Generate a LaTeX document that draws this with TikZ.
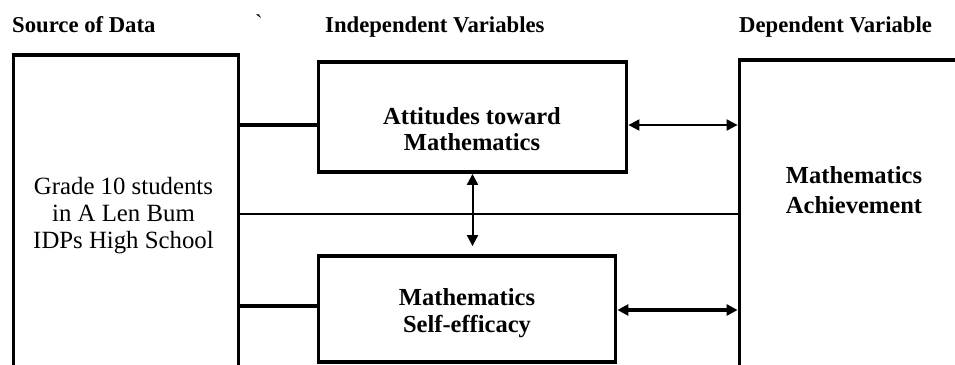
\documentclass[tikz,border=0pt]{standalone}
\usepackage{fontspec}
\setmainfont{Liberation Serif}
\usetikzlibrary{arrows.meta,calc}
\begin{document}
\begin{tikzpicture}[x=1pt,y=-1pt,
  box/.style={draw, rectangle, line width=3.8pt, inner sep=0pt},
  hdr/.style={inner sep=0pt, anchor=base west, font=\fontsize{22.7}{27}\selectfont\bfseries},
  btxt/.style={inner sep=0pt, align=center, font=\fontsize{24.5}{26}\selectfont\bfseries},
  rtxt/.style={inner sep=0pt, align=center, font=\fontsize{24.8}{27}\selectfont},
  link/.style={line width=3.8pt},
  thinlink/.style={line width=1.5pt},
  dbl/.style={{Triangle[length=11pt,width=11pt]}-{Triangle[length=11pt,width=11pt]}}
]
\useasboundingbox (0,0) rectangle (955,364);
\clip (0,0) rectangle (955,364);
% headers
\node[hdr] (hsrc) at (12,32) {Source of Data};
\node[inner sep=0pt, anchor=base west, font=\fontsize{22.7}{27}\selectfont] (tick) at (255,30) {\textasciigrave};
\node[hdr] (hind) at (325,32) {Independent Variables};
\node[hdr] (hdep) at (739,32) {Dependent Variable};
% boxes
\node[box, minimum width=225pt, minimum height=318pt] (src) at (126,214) {};
\node[box, minimum width=308pt, minimum height=110pt] (att) at (472.5,117) {};
\node[box, minimum width=297pt, minimum height=106pt] (self) at (467,309) {};
\node[box, minimum width=240pt, minimum height=308pt] (dep) at (859.5,214) {};
% texts
\node[rtxt] (srctxt) at (123.5,215.5) {Grade 10 students\\in A Len Bum\\IDPs High School};
\node[btxt] (atttxt) at (472,128.7) {Attitudes toward\\Mathematics};
\node[btxt, font=\fontsize{24.5}{27}\selectfont\bfseries] (selftxt) at (467,312.9) {Mathematics\\Self-efficacy};
\node[btxt, font=\fontsize{24.5}{30}\selectfont\bfseries] (deptxt) at (854,189.7) {Mathematics\\Achievement};
% connectors
\draw[link] ([yshift=-8pt]att.west -| src.east) -- ([yshift=-8pt]att.west);
\draw[link] ([yshift=3pt]self.west -| src.east) -- ([yshift=3pt]self.west);
\draw[thinlink] (src.east) -- (dep.west);
\draw[dbl, line width=2pt] ([yshift=-8pt]att.east) -- ([yshift=-8pt]att.east -| dep.west);
\draw[dbl, line width=3.5pt] ([yshift=-1pt]self.east) -- ([yshift=-1pt]self.east -| dep.west);
\draw[dbl, line width=2pt, shorten >=8pt] (att.south) -- (att.south |- self.north);
\end{tikzpicture}
\end{document}
